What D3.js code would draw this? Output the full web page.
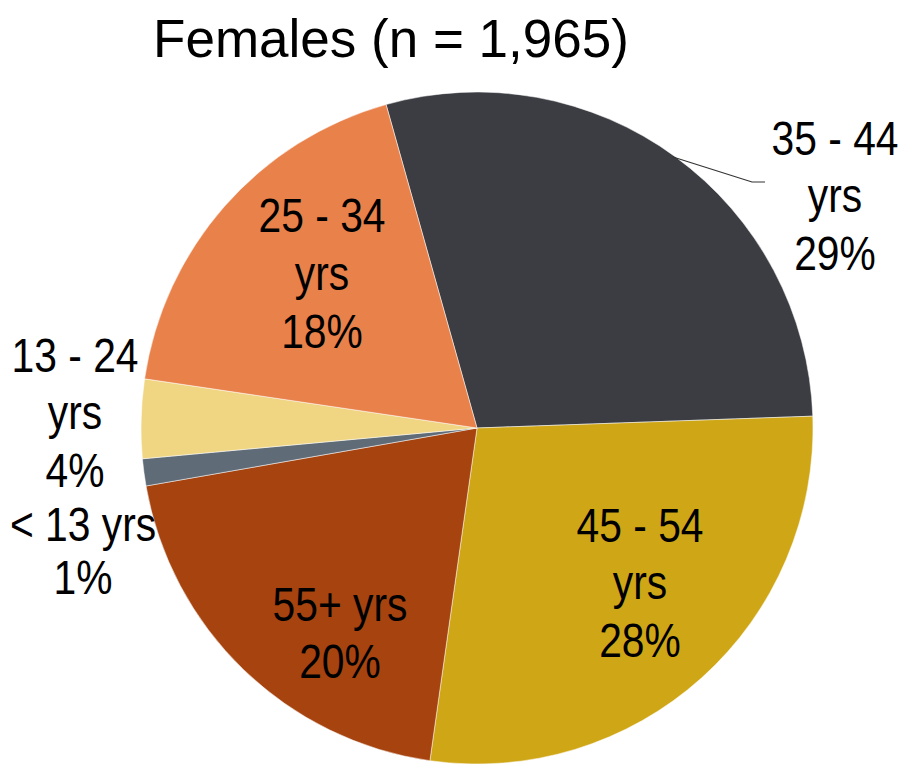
<!DOCTYPE html>
<html>
<head>
<meta charset="utf-8">
<script src="https://cdn.jsdelivr.net/npm/d3@7"></script>
<style>
  body { margin: 0; background: #fff; }
  .title { font-family: "Liberation Sans", Arial, sans-serif; font-size: 53px; fill: #000; }
  .lbl { font-family: "Liberation Sans", Arial, sans-serif; font-size: 48px; fill: #000; }
</style>
</head>
<body>
<div id="chart"></div>
<script>
// data (share of slice, and the printed label)
var groups  = ["35 - 44 yrs", "45 - 54 yrs", "55+ yrs", "< 13 yrs", "13 - 24 yrs", "25 - 34 yrs"];
var shares  = [28.8, 27.8, 20.0, 1.3, 3.8, 18.3];
var printed = ["29%", "28%", "20%", "1%", "4%", "18%"];
var colors  = ["#3b3d42", "#cfa616", "#a6430f", "#5f6b77", "#f0d682", "#e9814b"];

var width = 912, height = 770;
var cx = 477, cy = 428, radius = 336;
var squeeze = 0.85; // labels use a condensed face

var svg = d3.select("#chart")
  .append("svg")
    .attr("width", width)
    .attr("height", height);

svg.append("text")
  .attr("class", "title")
  .attr("x", 391)
  .attr("y", 57)
  .attr("text-anchor", "middle")
  .text("Females (n = 1,965)");

var data = groups.map(function(g, i) { return {group: g, value: shares[i], pct: printed[i], color: colors[i]}; });

var pie = d3.pie()
  .sort(null)
  .value(function(d) { return d.value; })
  .startAngle(-15.7 * Math.PI / 180)
  .endAngle(2 * Math.PI - 15.7 * Math.PI / 180);

var arc = d3.arc().innerRadius(0).outerRadius(radius);

var g = svg.append("g")
  .attr("transform", "translate(" + cx + "," + cy + ")");

g.selectAll("path.slice")
  .data(pie(data))
  .enter()
  .append("path")
    .attr("class", "slice")
    .attr("d", arc)
    .attr("fill", function(d) { return d.data.color; })
    .attr("stroke", "#fff")
    .attr("stroke-width", 0.5);

// label layout: text lines, x center, first baseline, line step
var labelLines = {
  "35 - 44 yrs": {lines: ["35 - 44", "yrs"], x: 835, y: 155, step: 57.5},
  "45 - 54 yrs": {lines: ["45 - 54", "yrs"], x: 640, y: 542, step: 57.5},
  "55+ yrs":     {lines: ["55+ yrs"], x: 340, y: 621, step: 57},
  "< 13 yrs":    {lines: ["< 13 yrs"], x: 83, y: 541, step: 53},
  "13 - 24 yrs": {lines: ["13 - 24", "yrs"], x: 75, y: 372, step: 57.5},
  "25 - 34 yrs": {lines: ["25 - 34", "yrs"], x: 322, y: 232, step: 58}
};

data.forEach(function(d) {
  var L = labelLines[d.group];
  var t = svg.append("text")
    .attr("class", "lbl")
    .attr("text-anchor", "middle")
    .attr("transform", "translate(" + L.x + ",0) scale(" + squeeze + ",1)");
  L.lines.concat([d.pct]).forEach(function(s, i) {
    t.append("tspan")
      .attr("x", 0)
      .attr("y", L.y + i * L.step)
      .text(s);
  });
});

// leader line for the 35 - 44 slice
svg.append("polyline")
  .attr("points", [[673, 157], [752, 182], [765, 182]].map(function(p) { return p.join(","); }).join(" "))
  .attr("fill", "none")
  .attr("stroke", "#333")
  .attr("stroke-width", 1.2);
</script>
</body>
</html>
